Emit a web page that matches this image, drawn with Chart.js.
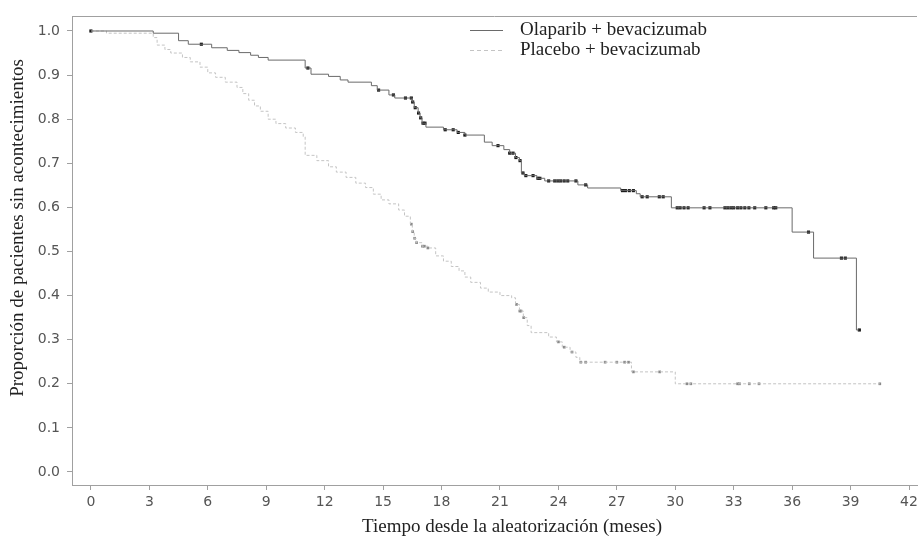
<!DOCTYPE html>
<html>
<head>
<meta charset="utf-8">
<script src="https://cdn.jsdelivr.net/npm/chart.js@4.4.0/dist/chart.umd.min.js"></script>
<style>
  html, body { margin: 0; padding: 0; background: #fff; }
  #wrap { width: 921px; height: 539px; }
</style>
</head>
<body>
<div id="wrap"><canvas id="kmChart" width="921" height="539"></canvas></div>
<script>
// Kaplan-Meier curves (months, proportion)
const olapTimes = [0, 3.2, 4.5, 5.0, 6.2, 7.0, 7.6, 8.2, 8.6, 9.1, 11.0, 11.3, 12.2, 12.8, 13.2, 14.4, 14.7, 15.3, 15.6,
  16.5, 16.6, 16.8, 16.9, 17.0, 17.2, 18.1, 18.8, 19.2, 20.2, 20.6, 21.2, 21.5, 21.8, 22.0, 22.1, 22.25, 22.9, 23.3,
  25.0, 25.5, 27.2, 28.0, 28.2, 29.8, 36.0, 37.1, 39.3, 39.45];
const olapSurv = [1.0, 0.995, 0.978, 0.970, 0.962, 0.956, 0.951, 0.945, 0.940, 0.934, 0.916, 0.902, 0.897, 0.889, 0.884, 0.876, 0.866, 0.855, 0.848,
  0.839, 0.826, 0.814, 0.803, 0.791, 0.782, 0.776, 0.770, 0.764, 0.748, 0.740, 0.731, 0.723, 0.713, 0.706, 0.678, 0.672, 0.666, 0.660,
  0.651, 0.644, 0.638, 0.631, 0.624, 0.599, 0.544, 0.485, 0.322, 0.322];
const olapCensTimes = [0, 5.67, 11.14, 14.77, 15.53, 16.15, 16.45, 16.52, 16.65, 16.82, 16.93, 17.05, 17.15, 18.19, 18.6, 18.86, 19.2,
  20.9, 21.5, 21.67, 21.82, 22.03, 22.18, 22.33, 22.7, 22.95, 23.05, 23.5, 23.81, 23.97, 24.12, 24.3, 24.48, 24.9, 25.4,
  27.29, 27.44, 27.64, 27.85, 28.3, 28.56, 29.18, 29.38, 30.1, 30.25, 30.45, 30.66, 31.48, 31.78, 32.55, 32.7, 32.86, 33.0,
  33.2, 33.37, 33.57, 33.78, 34.08, 34.65, 35.05, 35.16, 36.84, 38.53, 38.73, 39.45];
const olapCensSurv = [1.0, 0.970, 0.916, 0.866, 0.855, 0.848, 0.848, 0.839, 0.826, 0.814, 0.803, 0.791, 0.791, 0.776, 0.776, 0.770, 0.764,
  0.740, 0.723, 0.723, 0.713, 0.706, 0.678, 0.672, 0.672, 0.666, 0.666, 0.660, 0.660, 0.660, 0.660, 0.660, 0.660, 0.660, 0.651,
  0.638, 0.638, 0.638, 0.638, 0.624, 0.624, 0.624, 0.624, 0.599, 0.599, 0.599, 0.599, 0.599, 0.599, 0.599, 0.599, 0.599, 0.599,
  0.599, 0.599, 0.599, 0.599, 0.599, 0.599, 0.599, 0.599, 0.544, 0.485, 0.485, 0.322];

const placTimes = [0, 0.8, 3.2, 3.4, 3.8, 4.1, 4.7, 5.1, 5.6, 6.0, 6.4, 6.9, 7.5, 7.8, 8.1, 8.4, 8.7, 9.1, 9.5, 10.0, 10.5, 10.9,
  11.0, 11.6, 12.2, 12.6, 13.1, 13.6, 14.1, 14.5, 14.9, 15.3, 15.8, 16.1, 16.4, 16.5, 16.6, 16.7, 17.0, 17.3, 17.7, 18.1, 18.5,
  18.9, 19.2, 19.5, 20.0, 20.4, 21.0, 21.6, 21.8, 22.0, 22.2, 22.4, 22.6, 23.5, 23.9, 24.2, 24.6, 24.9, 25.1, 27.75, 30.0, 40.5];
const placSurv = [1.0, 0.995, 0.985, 0.968, 0.958, 0.950, 0.940, 0.930, 0.918, 0.905, 0.895, 0.884, 0.872, 0.858, 0.843, 0.830, 0.818, 0.800, 0.790, 0.780, 0.770, 0.760,
  0.718, 0.706, 0.692, 0.680, 0.668, 0.655, 0.645, 0.630, 0.617, 0.608, 0.594, 0.580, 0.562, 0.545, 0.530, 0.520, 0.512, 0.508, 0.490, 0.478, 0.466,
  0.456, 0.442, 0.430, 0.417, 0.408, 0.400, 0.395, 0.380, 0.365, 0.350, 0.332, 0.316, 0.306, 0.295, 0.283, 0.272, 0.260, 0.249, 0.227, 0.200, 0.200];
const placCensTimes = [16.45, 16.52, 16.62, 16.72, 17.02, 17.12, 17.3, 21.85, 22.02, 22.08, 22.22, 24.0, 24.3, 24.7,
  25.15, 25.4, 26.4, 27.0, 27.4, 27.6, 27.85, 29.2, 30.6, 30.8, 33.2, 33.3, 33.8, 34.3, 40.5];
const placCensSurv = [0.562, 0.545, 0.530, 0.520, 0.512, 0.512, 0.508, 0.380, 0.365, 0.365, 0.350, 0.295, 0.283, 0.272,
  0.249, 0.249, 0.249, 0.249, 0.249, 0.249, 0.227, 0.227, 0.200, 0.200, 0.200, 0.200, 0.200, 0.200, 0.200];

const seriesNames = ['Olaparib + bevacizumab', 'Placebo + bevacizumab'];
const xTicks = [0, 3, 6, 9, 12, 15, 18, 21, 24, 27, 30, 33, 36, 39, 42];
const yTicks = [0, 0.1, 0.2, 0.3, 0.4, 0.5, 0.6, 0.7, 0.8, 0.9, 1.0];
const xTitle = 'Tiempo desde la aleatorización (meses)';
const yTitle = 'Proporción de pacientes sin acontecimientos';

const olapColor = '#6a6a6a';
const placColor = '#c4c4c4';
const axisColor = '#a0a0a0';

function pairs(xs, ys) {
  return xs.map((x, i) => ({x: x, y: ys[i]}));
}

// legend, frame top line and axis titles
const extrasPlugin = {
  id: 'extras',
  afterDraw(chart) {
    const ctx = chart.ctx;
    const area = chart.chartArea;
    ctx.save();
    ctx.strokeStyle = axisColor;
    ctx.lineWidth = 1;
    ctx.beginPath();
    ctx.moveTo(area.left, area.top + 0.5);
    ctx.lineTo(area.right, area.top + 0.5);
    ctx.stroke();

    // legend
    ctx.strokeStyle = olapColor;
    ctx.beginPath(); ctx.moveTo(470, 30.5); ctx.lineTo(503, 30.5); ctx.stroke();
    ctx.strokeStyle = placColor;
    ctx.setLineDash([4, 3]);
    ctx.beginPath(); ctx.moveTo(470, 50.5); ctx.lineTo(503, 50.5); ctx.stroke();
    ctx.setLineDash([]);
    ctx.fillStyle = '#222';
    ctx.font = '19px "Liberation Serif"';
    ctx.textBaseline = 'middle';
    ctx.textAlign = 'left';
    ctx.fillText(seriesNames[0], 520, 30);
    ctx.fillText(seriesNames[1], 520, 50);

    // axis titles
    ctx.font = '19px "Liberation Serif"';
    ctx.textAlign = 'center';
    ctx.fillText(xTitle, 512, 527);
    ctx.translate(18, 228);
    ctx.rotate(-Math.PI / 2);
    ctx.fillText(yTitle, 0, 0);
    ctx.restore();
  }
};

new Chart(document.getElementById('kmChart'), {
  type: 'scatter',
  data: {
    datasets: [
      {
        label: seriesNames[0],
        data: pairs(olapTimes, olapSurv),
        showLine: true,
        stepped: true,
        borderColor: olapColor,
        borderWidth: 1,
        pointRadius: 0
      },
      {
        label: seriesNames[1],
        data: pairs(placTimes, placSurv),
        showLine: true,
        stepped: true,
        borderColor: placColor,
        borderDash: [3, 2],
        borderWidth: 1,
        pointRadius: 0
      },
      {
        label: 'censored olaparib',
        data: pairs(olapCensTimes, olapCensSurv),
        pointStyle: 'rect',
        pointRadius: 2.2,
        backgroundColor: '#111',
        borderColor: '#111',
        borderWidth: 0
      },
      {
        label: 'censored placebo',
        data: pairs(placCensTimes, placCensSurv),
        pointStyle: 'rect',
        pointRadius: 1.9,
        backgroundColor: '#8a8a8a',
        borderColor: '#8a8a8a',
        borderWidth: 0
      }
    ]
  },
  options: {
    responsive: false,
    animation: false,
    devicePixelRatio: 1,
    layout: { padding: { top: 16, right: 0, left: 0, bottom: 0 } },
    plugins: {
      legend: { display: false },
      tooltip: { enabled: false }
    },
    scales: {
      x: {
        type: 'linear',
        min: -0.97,
        max: 42.41,
        afterBuildTicks: (scale) => { scale.ticks = xTicks.map(v => ({value: v})); },
        afterFit: (scale) => { scale.height = 54; scale.paddingRight = 0; scale.paddingLeft = 0; },
        grid: { drawOnChartArea: false, drawTicks: true, tickLength: 5, tickColor: axisColor },
        border: { display: true, color: axisColor },
        ticks: {
          color: '#555',
          padding: 4,
          maxRotation: 0,
          autoSkip: false,
          font: { family: 'DejaVu Sans', size: 14 }
        }
      },
      y: {
        type: 'linear',
        min: -0.0295,
        max: 1.034,
        afterBuildTicks: (scale) => { scale.ticks = yTicks.map(v => ({value: v})); },
        afterFit: (scale) => { scale.width = 72; },
        grid: { drawOnChartArea: false, drawTicks: true, tickLength: 5, tickColor: axisColor },
        border: { display: true, color: axisColor },
        ticks: {
          color: '#555',
          padding: 7,
          autoSkip: false,
          callback: (v) => v.toFixed(1),
          font: { family: 'DejaVu Sans', size: 14 }
        }
      }
    }
  },
  plugins: [extrasPlugin]
});
</script>
</body>
</html>
